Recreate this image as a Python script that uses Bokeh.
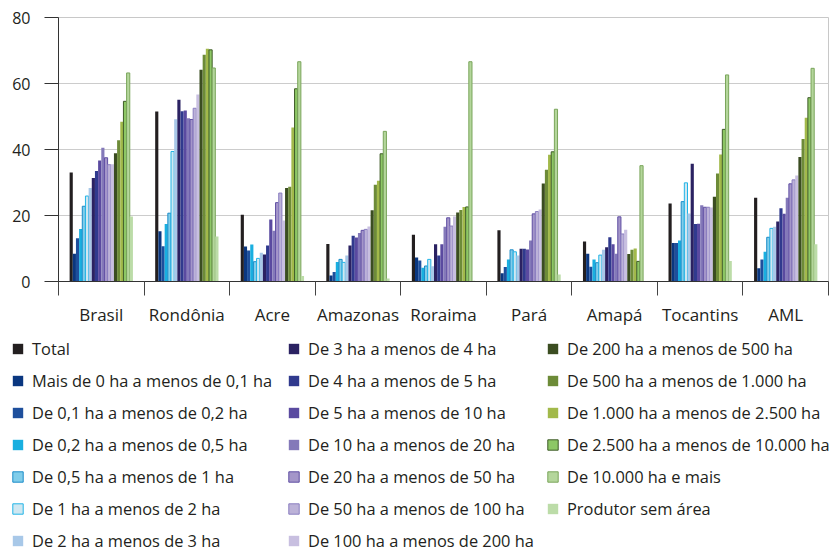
import numpy as np
from bokeh.plotting import figure
from bokeh.models import FixedTicker, Legend, LegendItem, Range1d
from bokeh.embed import file_html
from bokeh.resources import INLINE

# Regions on the x axis
regions = ["Brasil", "Rondônia", "Acre", "Amazonas", "Roraima",
           "Pará", "Amapá", "Tocantins", "AML"]

# Area classes (one bar per class inside every region)
classes = [
    "Total",
    "Mais de 0 ha a menos de 0,1 ha",
    "De 0,1 ha a menos de 0,2 ha",
    "De 0,2 ha a menos de 0,5 ha",
    "De 0,5 ha a menos de 1 ha",
    "De 1 ha a menos de 2 ha",
    "De 2 ha a menos de 3 ha",
    "De 3 ha a menos de 4 ha",
    "De 4 ha a menos de 5 ha",
    "De 5 ha a menos de 10 ha",
    "De 10 ha a menos de 20 ha",
    "De 20 ha a menos de 50 ha",
    "De 50 ha a menos de 100 ha",
    "De 100 ha a menos de 200 ha",
    "De 200 ha a menos de 500 ha",
    "De 500 ha a menos de 1.000 ha",
    "De 1.000 ha a menos de 2.500 ha",
    "De 2.500 ha a menos de 10.000 ha",
    "De 10.000 ha e mais",
    "Produtor sem área",
]

# Values per region, in the order of `classes`
brasil = [33.0, 8.4, 13.1, 15.9, 22.8, 25.9, 28.3, 31.4, 33.5, 36.7,
          40.5, 37.5, 35.4, 35.5, 38.9, 42.8, 48.4, 54.6, 63.2, 19.7]
rondonia = [51.5, 15.2, 10.7, 17.4, 20.7, 39.4, 49.2, 55.1, 51.6, 51.8,
            49.5, 49.1, 52.5, 56.7, 64.2, 68.7, 70.5, 70.2, 64.7, 13.6]
acre = [20.2, 10.6, 9.4, 11.2, 6.0, 7.0, 8.7, 8.2, 10.9, 18.8,
        15.4, 23.9, 26.8, 18.5, 28.3, 28.7, 46.7, 58.4, 66.6, 1.7]
amazonas = [11.4, 1.8, 2.9, 5.9, 6.7, 5.8, 7.9, 10.9, 13.9, 13.3,
            14.7, 15.5, 15.8, 16.7, 21.6, 29.3, 30.5, 38.7, 45.5, 0.9]
roraima = [14.2, 7.3, 6.4, 4.2, 4.7, 6.7, 4.6, 11.3, 7.9, 11.3,
           16.6, 19.3, 16.8, 19.7, 20.9, 21.7, 22.6, 22.6, 66.6, 0.2]
para = [15.5, 2.5, 4.4, 6.7, 9.6, 9.0, 7.9, 9.9, 9.9, 9.7,
        12.4, 20.5, 21.2, 21.8, 29.7, 33.9, 38.4, 39.3, 52.2, 2.1]
amapa = [12.1, 8.4, 4.5, 6.7, 5.7, 8.0, 9.6, 10.4, 13.4, 11.3,
         8.4, 19.6, 14.4, 15.7, 8.3, 9.6, 10.0, 6.1, 35.1, 0.0]
tocantins = [23.6, 11.7, 11.7, 12.4, 24.2, 29.9, 20.6, 35.7, 17.4, 17.5,
             23.1, 22.5, 22.5, 22.4, 25.7, 32.7, 38.5, 46.1, 62.6, 6.2]
aml = [25.4, 4.0, 6.7, 9.0, 13.4, 16.1, 16.6, 18.2, 22.2, 20.5,
       25.4, 29.6, 30.8, 32.1, 37.7, 43.2, 49.6, 55.7, 64.6, 11.3]

y_ticks = [0, 20, 40, 60, 80]

# Styling per class: fill colour and outline colour (None = no outline)
fills = ["#231f20", "#0a3780", "#1e4f9c", "#19afe0", "#80cdea", "#cfe7f1",
         "#a8c8e8", "#2b2262", "#303a8e", "#5a4aa0", "#8479b9", "#a496c9",
         "#bcb2d8", "#c8bfe0", "#3b4d21", "#6d8b38", "#a2b94a", "#8dc765",
         "#b4d69b", "#bcdca8"]
outlines = [None, None, None, None, "#1b8cc8", "#22b4e6", None, None, None,
            None, None, "#5f4ea3", "#8a7ec0", None, None, None, None,
            "#3e5b27", "#7aa55b", None]

TEXT = "#231f20"
FONT = "Open Sans"


def bar_style(j):
    if outlines[j] is None:
        return dict(fill_color=fills[j], line_color=None)
    return dict(fill_color=fills[j], line_color=outlines[j], line_width=1)


table = np.array([brasil, rondonia, acre, amazonas, roraima,
                  para, amapa, tocantins, aml])
n_reg, n_cls = table.shape
bar_w = 0.037
centers = np.arange(n_reg) + 0.5
offsets = [(j - (n_cls - 1) / 2) * bar_w for j in range(n_cls)]

# ---- bar chart -------------------------------------------------------------
p = figure(width=832, height=330, output_backend="svg", toolbar_location=None,
           x_range=Range1d(0, n_reg), y_range=Range1d(0, 80),
           min_border_left=58, min_border_right=4, min_border_top=17,
           min_border_bottom=49)
p.background_fill_color = "white"
p.border_fill_color = "white"
p.outline_line_color = "#c8c8c8"

for j in range(n_cls):
    p.vbar(x=centers + offsets[j], top=table[:, j], width=bar_w, bottom=0,
           **bar_style(j))

p.xgrid.visible = False
p.ygrid.grid_line_color = "#cccccc"
p.ygrid.ticker = FixedTicker(ticks=y_ticks)

p.yaxis.ticker = FixedTicker(ticks=y_ticks)
p.yaxis.axis_line_color = "#333333"
p.yaxis.major_tick_line_color = "#333333"
p.yaxis.major_tick_out = 14
p.yaxis.major_tick_in = 0
p.yaxis.minor_tick_line_color = None
p.yaxis.major_label_standoff = 14
p.yaxis.major_label_text_font = FONT
p.yaxis.major_label_text_font_size = "16px"
p.yaxis.major_label_text_color = TEXT

p.xaxis.ticker = FixedTicker(ticks=list(centers),
                             minor_ticks=list(range(n_reg + 1)))
p.xaxis.major_label_overrides = {float(c): name for c, name in zip(centers, regions)}
p.xaxis.axis_line_color = "#333333"
p.xaxis.major_tick_out = 0
p.xaxis.major_tick_in = 0
p.xaxis.minor_tick_out = 14
p.xaxis.minor_tick_in = 0
p.xaxis.minor_tick_line_color = "#444444"
p.xaxis.major_label_standoff = 7
p.xaxis.major_label_text_font = FONT
p.xaxis.major_label_text_font_size = "17px"
p.xaxis.major_label_text_color = TEXT

# ---- legend panel (three columns) -------------------------------------------
lf = figure(width=832, height=222, output_backend="svg", toolbar_location=None,
            x_range=Range1d(0, n_reg), y_range=Range1d(0, 80),
            x_axis_location=None, y_axis_location=None, min_border=0)
lf.outline_line_color = None
lf.xgrid.visible = False
lf.ygrid.visible = False

# same series, hidden here: they only provide the legend swatches
keys = [lf.vbar(x=centers + offsets[j], top=table[:, j], width=bar_w, bottom=0,
                visible=False, **bar_style(j)) for j in range(n_cls)]
items = [LegendItem(label=classes[j], renderers=[keys[j]]) for j in range(n_cls)]
groups = [items[0:7], items[7:14], items[14:20]]
lx = [11, 287, 546]
ly = [0, 0, 32]
for grp, x0, y0 in zip(groups, lx, ly):
    lg = Legend(items=grp, location=(x0, y0), orientation="vertical",
                glyph_width=13, glyph_height=13, label_height=23,
                label_standoff=8, spacing=9, padding=0, margin=0,
                border_line_color=None, background_fill_alpha=0,
                label_text_font=FONT, label_text_font_size="16.4px",
                label_text_color=TEXT)
    lf.add_layout(lg, "center")

open("out.html", "w").write(file_html([p, lf], INLINE))
